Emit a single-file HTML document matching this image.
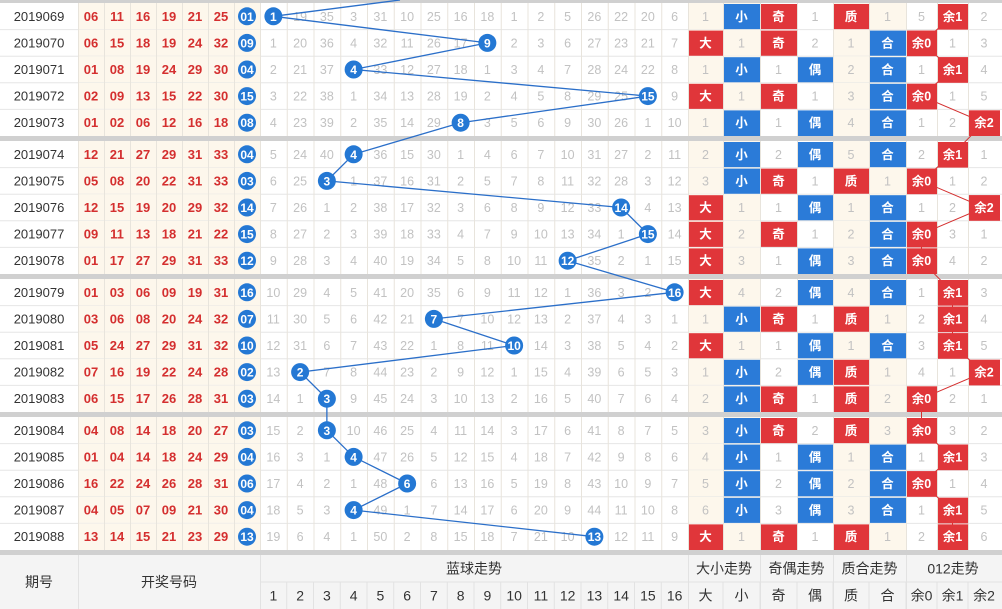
<!DOCTYPE html>
<html><head><meta charset="utf-8">
<style>
html,body{margin:0;padding:0;background:#fff;}
svg{display:block;font-family:"Liberation Sans","Noto Sans CJK SC",sans-serif;}
</style></head>
<body>
<svg id="chart" width="1002" height="609" viewBox="0 0 1002 609" xmlns="http://www.w3.org/2000/svg"></svg>
<script>
const periods = ["2019069","2019070","2019071","2019072","2019073","2019074","2019075","2019076","2019077","2019078","2019079","2019080","2019081","2019082","2019083","2019084","2019085","2019086","2019087","2019088"];
const reds = [
[6,11,16,19,21,25],[6,15,18,19,24,32],[1,8,19,24,29,30],[2,9,13,15,22,30],[1,2,6,12,16,18],
[12,21,27,29,31,33],[5,8,20,22,31,33],[12,15,19,20,29,32],[9,11,13,18,21,22],[1,17,27,29,31,33],
[1,3,6,9,19,31],[3,6,8,20,24,32],[5,24,27,29,31,32],[7,16,19,22,24,28],[6,15,17,26,28,31],
[4,8,14,18,20,27],[1,4,14,18,24,29],[16,22,24,26,28,31],[4,5,7,9,21,30],[13,14,15,21,23,29]];
const blues = [1,9,4,15,8,4,3,14,15,12,16,7,10,2,3,3,4,6,4,13];
const firstRowOmission = [0,19,35,3,31,10,25,16,18,1,2,5,26,22,20,6];
const firstRowRightOmission = [1,0,0,1,0,1,5,0,2];
const rightLabels = ["大","小","奇","偶","质","合","余0","余1","余2"];
const sectionTitles = ["大小走势","奇偶走势","质合走势","012走势"];

const svg = document.getElementById('chart');
const NS = "http://www.w3.org/2000/svg";
function mk(tag, attrs, parent){const e=document.createElementNS(NS,tag);for(const k in attrs)e.setAttribute(k,attrs[k]);(parent||svg).appendChild(e);return e;}
function txt(x,y,s,size,fill,weight,parent){const t=mk('text',{x:x,y:y,'text-anchor':'middle','font-size':size,fill:fill,'font-weight':weight||'normal'},parent);t.textContent=s;return t;}

const RH=26.6, TOP=3;
function rowTop(i){return TOP+i*RH+Math.floor(i/5)*5;}
function rowMid(i){return rowTop(i)+RH/2;}
const TX0=260, TW=26.75;
function trendX(c){return TX0+c*TW;}
const rightX=[688,723,760,797,833,869,906,937,968,1000];
const primes=[1,2,3,5,7,11,13];

// compute omissions
const om=[firstRowOmission.slice()];
for(let r=1;r<blues.length;r++){om.push(om[r-1].map((v,c)=>blues[r]===c+1?0:v+1));}
function flags(b){const m=b%3;const big=b>=9,odd=b%2===1,pr=primes.includes(b);return [big,!big,odd,!odd,pr,!pr,m===0,m===1,m===2];}
const rom=[firstRowRightOmission.slice()];
for(let r=1;r<blues.length;r++){const f=flags(blues[r]);rom.push(rom[r-1].map((v,c)=>f[c]?0:v+1));}

// top bar
mk('rect',{x:0,y:0,width:1002,height:3,fill:'#d0d0d0'});

const N=blues.length;
for(let r=0;r<N;r++){
  const y=rowTop(r), ym=rowMid(r);
  const g=mk('g',{});
  
  
  mk('rect',{x:78,y:y,width:182,height:RH,fill:'#fdf7ec'},g);
  mk('rect',{x:688,y:y,width:72,height:RH,fill:'#fdf7ec'},g);
  mk('rect',{x:833,y:y,width:73,height:RH,fill:'#fdf7ec'},g);
  txt(39,ym+4.5,periods[r],13,'#333','normal',g);
  reds[r].forEach((n,i)=>{const t=txt(91+i*26,ym+4.5,String(n).padStart(2,'0'),13,'#d42f2f','bold',g);
    
    });
  for(let c=0;c<16;c++){ if(blues[r]!==c+1) txt(trendX(c)+TW/2,ym+4.5,om[r][c],12.5,'#c2c2c2','normal',g); }
  const f=flags(blues[r]);
  for(let c=0;c<9;c++){
    const x0=rightX[c], w=rightX[c+1]-x0, cx=x0+w/2;
    if(f[c]){
      const blue=(c===1||c===3||c===5);
      const rc=mk('rect',{x:x0+1,y:y+1,width:w-1,height:RH-1,fill:blue?'#2b7bd8':'#e0363a'},g);
      
      
      txt(cx,ym+4.5,rightLabels[c],12.5,'#fff','bold',g);
    } else txt(cx,ym+4.5,rom[r][c],12.5,'#c2c2c2','normal',g);
  }
  // horizontal line
  if(r%5!==4) mk('line',{x1:0,x2:1002,y1:y+RH,y2:y+RH,stroke:'#e6e6e6','stroke-width':1});
  else mk('rect',{x:0,y:y+RH,width:1002,height:5,fill:'#d0d0d0'});
}
// vertical grid lines
const vx=[78,104,130,156,182,208,234,260];
for(let c=1;c<=16;c++)vx.push(trendX(c));
rightX.slice(1,9).forEach(v=>vx.push(v));
for(let gr=0;gr<4;gr++){
  const y1=rowTop(gr*5), y2=rowTop(gr*5+4)+RH;
  vx.forEach(x=>mk('line',{x1:x+0.5,x2:x+0.5,y1:y1,y2:y2,stroke:'#e8e4dc','stroke-width':1}));
}
// red 012 line
const rpts=[];
for(let r=0;r<N;r++){const m=blues[r]%3;rpts.push([(rightX[6+m]+rightX[7+m])/2,rowMid(r)]);}
const rl=mk('polyline',{points:rpts.map(p=>p.join(',')).join(' '),fill:'none',stroke:'#d42f2f','stroke-width':1});


// redraw 012 hit cells over line
for(let r=0;r<N;r++){const m=blues[r]%3;const x0=rightX[6+m],w=rightX[7+m]-x0;
  mk('rect',{x:x0+1,y:rowTop(r)+1,width:w-1,height:RH-1,fill:'#e0363a'});
  txt(x0+w/2,rowMid(r)+4.5,rightLabels[6+m],12.5,'#fff','bold');}
// blue line
mk('line',{x1:trendX(0)+TW/2,y1:rowMid(0),x2:400,y2:0,stroke:'#2b6fc9','stroke-width':1.3});
const bpts=blues.map((b,r)=>[trendX(b-1)+TW/2,rowMid(r)]);
const bl=mk('polyline',{points:bpts.map(p=>p.join(',')).join(' '),fill:'none',stroke:'#2b6fc9','stroke-width':1.3});


blues.forEach((b,r)=>{
  const cx=trendX(b-1)+TW/2, cy=rowMid(r);
  const c=mk('circle',{cx:cx,cy:cy,r:9,fill:'#2478d4'});
  
  
  txt(cx,cy+4.5,b,12,'#fff','bold');
  const c2=mk('circle',{cx:247,cy:cy,r:9,fill:'#2478d4'});
  
  
  txt(247,cy+4.5,String(b).padStart(2,'0'),12,'#fff','bold');
});
// footer
const FY=rowTop(N-1)+RH+5;
mk('rect',{x:0,y:FY,width:1002,height:609-FY,fill:'#f4f4f4'});
const fm=(FY+609)/2, r1=FY+(609-FY)/4, r2=FY+3*(609-FY)/4, fmid=FY+(609-FY)/2;
mk('line',{x1:260,x2:1002,y1:fmid,y2:fmid,stroke:'#e2e2e2'});
[78,260,688,760,833,906].forEach(x=>mk('line',{x1:x+0.5,x2:x+0.5,y1:FY,y2:609,stroke:'#e2e2e2'}));
for(let c=1;c<16;c++)mk('line',{x1:trendX(c),x2:trendX(c),y1:fmid,y2:609,stroke:'#e2e2e2'});
rightX.slice(1,9).forEach(x=>mk('line',{x1:x,x2:x,y1:fmid,y2:609,stroke:'#e2e2e2'}));
let t=txt(39,fm+5,'期号',14,'#333');
t=txt(169,fm+5,'开奖号码',14,'#333');
t=txt(474,r1+5,'蓝球走势',14,'#333');
for(let c=0;c<16;c++){t=txt(trendX(c)+TW/2,r2+5,c+1,14,'#333');}
const secX=[688,760,833,906,1000];
sectionTitles.forEach((s,i)=>{t=txt((secX[i]+secX[i+1])/2,r1+5,s,14,'#333');});
rightLabels.forEach((s,c)=>{t=txt((rightX[c]+rightX[c+1])/2,r2+5,s,14,'#333');});
</script>
</body></html>
